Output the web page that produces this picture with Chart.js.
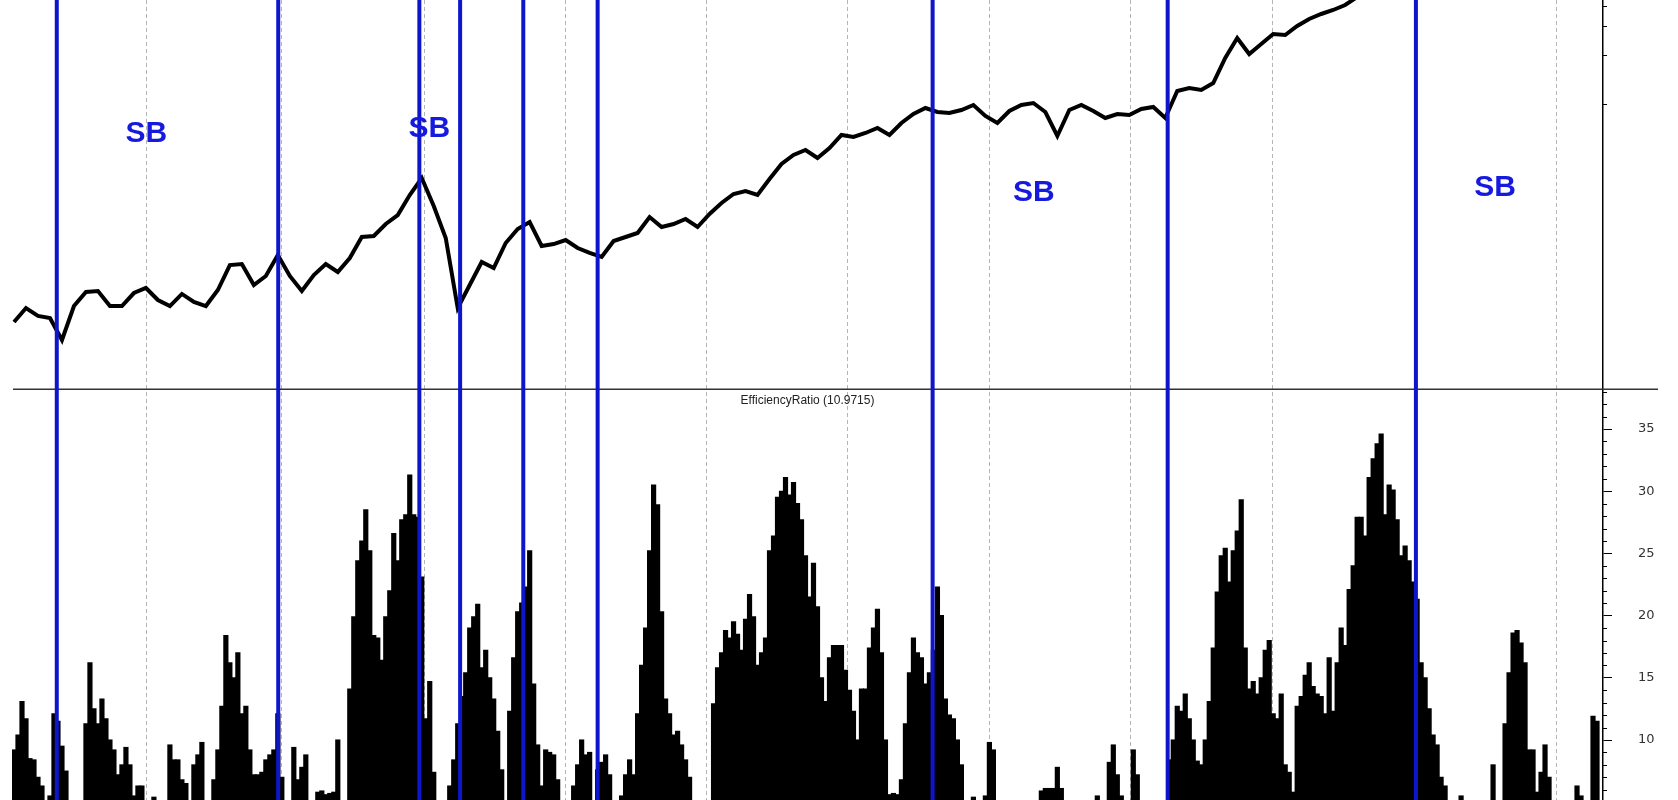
<!DOCTYPE html>
<html>
<head>
<meta charset="utf-8">
<script src="https://cdn.jsdelivr.net/npm/chart.js@4.4.1/dist/chart.umd.min.js"></script>
<style>
  html, body { margin: 0; padding: 0; background: #fff; overflow: hidden; }
  #wrap { width: 1678px; height: 800px; }
</style>
</head>
<body>
<div id="wrap"><canvas id="er-chart" width="1678" height="800"></canvas></div>
<script>
// efficiency ratio, one bar per period
const efficiencyRatio = [
  9.2, 10.4, 13.1, 11.7, 8.5, 8.4, 7.0, 6.3, 3, 5.5, 12.1, 11.5, 9.5, 7.5, 3, 2.5, 3, 4, 11.3, 16.2,
  12.5, 11.3, 13.3, 11.7, 10, 9.2, 7.2, 8, 9.4, 8, 5.5, 6.3, 6.3, 3, 4.5, 5.4, 3, 2.5, 3, 9.6,
  8.4, 8.4, 6.8, 6.5, 3, 8, 8.8, 9.8, 4, 3, 6.8, 9.2, 12.7, 18.4, 16.2, 15, 17, 12.1, 12.7, 9.2,
  7.2, 7.2, 7.4, 8.4, 8.8, 9.2, 12.1, 7, 3, 3, 9.4, 6.8, 7.8, 8.8, 3, 2.5, 5.8, 5.9, 5.6, 5.7,
  5.8, 10, 3, 4, 14.1, 19.9, 24.4, 26, 28.5, 25.2, 18.4, 18.2, 16.4, 19.9, 22, 26.6, 24.4, 27.7, 28.1, 31.3,
  28.1, 27.9, 23.1, 11.7, 14.7, 7.4, 3, 2.5, 4, 6.3, 8.4, 11.3, 13.5, 15.4, 19, 19.9, 20.9, 15.8, 17.2, 15,
  13.3, 10.7, 7.6, 3, 12.3, 16.6, 20.3, 21, 22.3, 25.2, 14.5, 9.6, 6.3, 9.2, 9, 8.8, 6.8, 3, 2.5, 4,
  6.3, 8, 10, 8.8, 9, 3, 7.6, 8.2, 8.8, 7.2, 3, 4, 5.5, 7.2, 8.4, 7.2, 12.1, 16, 19, 25.2,
  30.5, 28.9, 20.3, 13.3, 12.1, 10.4, 10.7, 9.6, 8.4, 7, 3, 2.5, 3, 3.5, 3, 12.9, 15.8, 17, 18.8, 18.2,
  19.5, 18.5, 17.2, 19.7, 21.7, 19.9, 16, 17, 18.2, 25.2, 26.4, 29.5, 30, 31.1, 29.7, 30.7, 29, 27.7, 24.8, 21.5,
  24.2, 20.7, 15, 13.1, 16.6, 17.6, 17.6, 17.6, 15.6, 14, 12.3, 10, 14.1, 14.1, 17.4, 19, 20.5, 17, 10, 5.6,
  5.7, 5.6, 6.8, 11.3, 15.4, 18.2, 17, 16.6, 14.5, 15.4, 17.2, 22.3, 20, 13.3, 12, 11.7, 10, 8, 3, 2.5,
  5.4, 3, 2, 5.5, 9.8, 9.2, 4, 3, 2.5, 2, 2.5, 3, 2.5, 2, 3, 3.5, 4, 5.9, 6.1, 6.1,
  6.1, 7.8, 6.1, 5, 3, 2.5, 2, 2.5, 3, 3.5, 4, 5.5, 4, 4.5, 8.2, 9.6, 7.2, 5.5, 3, 4,
  9.2, 7.2, 3, 2.5, 2, 2.5, 3, 3.5, 4, 8.4, 10, 12.7, 12.3, 13.7, 11.7, 10, 8.3, 8, 10, 13.1,
  17.4, 21.9, 24.8, 25.4, 22.7, 25.2, 26.8, 29.3, 17.4, 14.1, 14.7, 13.7, 15, 17.2, 18, 12.1, 11.7, 13.7, 8, 7.4,
  5.8, 12.7, 13.5, 15.2, 16.2, 14.3, 13.7, 13.5, 12.1, 16.6, 12.3, 16.2, 19, 17.6, 22.1, 24, 27.9, 27.9, 26.4, 31.1,
  32.6, 33.8, 34.6, 28.1, 30.5, 30.1, 27.7, 24.8, 25.6, 24.4, 22.7, 21.3, 16.2, 15, 12.5, 10.4, 9.6, 7, 6.3, 4,
  3, 2.5, 5.5, 3, 2.5, 2, 2.5, 3, 3.5, 4, 8, 4, 3.5, 11.3, 15.4, 18.6, 18.8, 17.8, 16.2, 9.2,
  9.2, 5.8, 7.4, 9.6, 7, 4, 3, 2.5, 2, 2.5, 3, 6.3, 5.5, 3, 2.5, 11.9, 11.5, 3
];

// price closes, one reading every priceStep bars (log scale)
const priceStep = 3;
const price = [
  4.58, 5.58, 4.99, 4.85, 3.55, 5.74, 7.00, 7.10, 5.74, 5.74,
  6.90, 7.41, 6.25, 5.74, 6.81, 6.08, 5.74, 7.20, 10.25, 10.40,
  7.73, 8.78, 11.81, 8.78, 7.10, 8.90, 10.40, 9.29, 11.32, 15.24,
  15.46, 18.32, 20.80, 27.61, 35.11, 23.63, 15.03, 5.58, 7.73, 10.70,
  9.83, 14.00, 17.07, 18.84, 13.42, 13.80, 14.61, 13.05, 12.16, 11.49,
  14.40, 15.24, 16.13, 20.22, 17.56, 18.32, 19.66, 17.56, 21.10, 24.65,
  28.00, 29.21, 27.61, 34.62, 42.80, 48.61, 52.17, 46.59, 53.67, 64.50,
  62.70, 66.35, 71.22, 64.50, 76.44, 86.81, 94.50, 89.30, 88.05, 91.86,
  98.60, 84.39, 76.44, 90.57, 98.60, 101.42, 89.30, 63.60, 91.86, 98.60,
  90.57, 82.04, 86.81, 85.59, 93.17, 95.85, 82.04, 120.19, 125.39, 121.90,
  134.59, 191.68, 254.34, 202.83, 233.66, 269.15, 265.38, 301.40, 332.77, 357.14,
  377.94, 405.66, 454.2, 487.5
];

// vertical signal lines (bar positions) and year separators
const signalBars = [10.7, 66.1, 101.4, 111.6, 127.4, 146, 229.8, 288.6, 350.7];
const yearBars = [32.9, 66.9, 102.5, 137.8, 173.2, 208.5, 243.8, 279.3, 314.7, 350.1, 385.7];

const sbLabels = [
  { bar: 33.1, price: 65.4 },
  { bar: 103.9, price: 70.2 },
  { bar: 255.1, price: 28.6 },
  { bar: 370.5, price: 30.7 },
];

const priceTicks = [100, 200, 300, 400];
const erTitle = 'EfficiencyRatio (10.9715)';
const erPanelTop = 38.2;

const labels = efficiencyRatio.map((_, i) => i);
const priceData = labels.map((i) => (i % priceStep === 0 && price[i / priceStep] !== undefined ? price[i / priceStep] : null));

const blue = 'rgb(14,22,204)';

const panelDecor = {
  id: 'panelDecor',
  beforeDatasetsDraw(chart) {
    const { ctx, chartArea: { top, bottom }, scales: { x } } = chart;
    ctx.save();
    ctx.strokeStyle = '#b4b4b4';
    ctx.lineWidth = 1;
    ctx.setLineDash([4, 3]);
    yearBars.forEach((b) => {
      const px = Math.round(x.getPixelForValue(b)) + 0.5;
      ctx.beginPath();
      ctx.moveTo(px, top);
      ctx.lineTo(px, bottom);
      ctx.stroke();
    });
    ctx.restore();
  },
  afterDatasetsDraw(chart) {
    const { ctx, chartArea: { left, right, top, bottom }, scales: { x, price: py, er } } = chart;
    ctx.save();

    // panel divider
    const dy = er.getPixelForValue(erPanelTop);
    ctx.strokeStyle = '#333';
    ctx.lineWidth = 1.5;
    ctx.beginPath();
    ctx.moveTo(left + 1, dy);
    ctx.lineTo(right + 55, dy);
    ctx.stroke();

    // indicator title
    ctx.fillStyle = '#222';
    ctx.font = '12px "Liberation Sans", Arial, sans-serif';
    ctx.textAlign = 'center';
    ctx.textBaseline = 'middle';
    ctx.fillText(erTitle, (left + right) / 2, dy + 11);

    // minor ticks
    ctx.strokeStyle = '#000';
    ctx.lineWidth = 1;
    for (let v = 6; v <= 38; v++) {
      if (v % 5 === 0) continue;
      const ty = Math.round(er.getPixelForValue(v)) + 0.5;
      ctx.beginPath();
      ctx.moveTo(right, ty);
      ctx.lineTo(right + 4, ty);
      ctx.stroke();
    }
    priceTicks.forEach((p) => {
      const ty = Math.round(py.getPixelForValue(p)) + 0.5;
      ctx.beginPath();
      ctx.moveTo(right, ty);
      ctx.lineTo(right + 4, ty);
      ctx.stroke();
    });

    // signal lines
    ctx.strokeStyle = blue;
    ctx.lineWidth = 4;
    signalBars.forEach((b) => {
      const px = x.getPixelForValue(b);
      ctx.beginPath();
      ctx.moveTo(px, top);
      ctx.lineTo(px, bottom);
      ctx.stroke();
    });

    // SB labels
    ctx.fillStyle = 'rgb(22,26,222)';
    ctx.font = 'bold 30px "Liberation Sans", Arial, sans-serif';
    sbLabels.forEach((s) => {
      ctx.fillText('SB', x.getPixelForValue(s.bar), py.getPixelForValue(s.price));
    });
    ctx.restore();
  },
};

const ctx = document.getElementById('er-chart').getContext('2d');
const chart = new Chart(ctx, {
  type: 'bar',
  data: {
    labels: labels,
    datasets: [
      {
        type: 'line',
        data: priceData,
        yAxisID: 'price',
        borderColor: '#000',
        borderWidth: 4,
        pointRadius: 0,
        spanGaps: true,
        tension: 0,
      },
      {
        type: 'bar',
        data: efficiencyRatio,
        yAxisID: 'er',
        backgroundColor: '#000',
        borderWidth: 0,
        barPercentage: 1,
        categoryPercentage: 1,
        inflateAmount: 0.6,
      },
    ],
  },
  options: {
    responsive: false,
    animation: false,
    layout: { padding: { left: 12, top: 0, bottom: 0, right: 0 } },
    plugins: {
      legend: { display: false },
      tooltip: { enabled: false },
    },
    scales: {
      x: { display: false },
      price: {
        type: 'logarithmic',
        display: false,
        position: 'right',
        min: 0.005306,
        max: 435.3,
      },
      er: {
        position: 'right',
        min: 5.18,
        max: 69.49,
        afterFit: (scale) => {
          scale.width = 75;
          scale.paddingTop = 0;
          scale.paddingBottom = 0;
        },
        border: { display: true, color: '#000', width: 1.5 },
        grid: {
          drawOnChartArea: false,
          tickLength: 9,
          tickColor: (c) => (c.tick && c.tick.value <= 35 && c.tick.value % 5 === 0 ? '#000' : 'rgba(0,0,0,0)'),
        },
        ticks: {
          stepSize: 5,
          padding: 26,
          color: '#333',
          font: { family: 'DejaVu Sans', size: 13 },
          callback: (v) => (v >= 10 && v <= 35 && v % 5 === 0 ? v : ''),
        },
      },
    },
  },
  plugins: [panelDecor],
});
</script>
</body>
</html>
